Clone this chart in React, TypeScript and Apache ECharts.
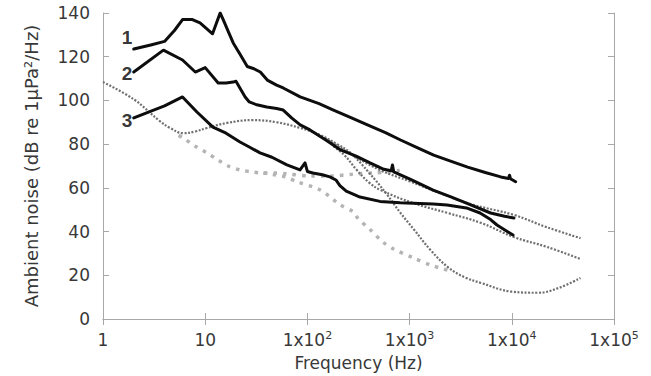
import React, { useEffect, useRef } from "react";
import * as echarts from "echarts";

// Frequency (Hz) / ambient noise (dB re 1µPa²/Hz) pairs
const curve1: [number, number][] = [
  [2, 123.5], [3, 125.5], [4, 127], [5, 132], [6, 137], [7.5, 137], [8.9, 135.5], [11.8, 130.5],
  [14, 140], [15, 137], [17, 131], [18.8, 126.3], [22, 121], [25.8, 115.5], [30, 114.5], [34.6, 113],
  [40.5, 109.3], [50, 107], [58, 105.7], [85, 101.6], [130, 98.5], [180, 95.6], [270, 92], [387, 88.8],
  [580, 85.3], [816, 81.9], [1200, 78.3], [1720, 75], [2600, 72], [3700, 69.5], [5500, 67], [7800, 65],
  [9300, 64.3], [9500, 65.8], [9700, 64.2], [10900, 62.8],
];
const curve2: [number, number][] = [
  [2, 113], [3.9, 123], [6, 118.5], [8, 113], [10, 115], [13.4, 108], [16, 108], [18.8, 108.4],
  [20, 108.8], [24.6, 101.6], [27, 99.3], [32, 98], [40, 97], [50, 96.3], [58, 95.6], [70, 92],
  [85, 88.8], [106, 86.5], [150, 82], [208, 77.5], [300, 74.5], [410, 71.4], [560, 68.5], [660, 67.8],
  [680, 70.5], [700, 67.3], [1009, 64], [1700, 59], [2500, 56], [3600, 53], [6200, 48.5], [8500, 47],
  [10500, 46.2],
];
const curve3: [number, number][] = [
  [2, 92], [4, 97.5], [6, 101.6], [8.3, 94.7], [11.9, 87.8], [16, 85], [21.9, 81], [27, 78.7],
  [34.4, 76], [45, 74], [63, 70.5], [84.7, 68.2], [94.8, 71.4], [100, 67.5], [113, 66.8], [140, 66],
  [166, 65], [190, 63.6], [208, 61], [240, 58.5], [327, 55.8], [513, 53.8], [810, 53.2], [1700, 52.6],
  [2323, 52.2], [3600, 50.8], [4890, 48.5], [6200, 45.5], [7160, 43], [10280, 38.4],
];
const greyA: [number, number][] = [
  [1, 108.4], [2, 100.5], [3.6, 90.5], [4.5, 87.5], [6.1, 85], [8, 85.8], [10.4, 87.4], [16.3, 89.7],
  [29, 91], [50, 90], [85, 87.4], [133, 84.2], [195, 80], [264, 76], [400, 67], [600, 57], [800, 49],
  [1100, 41], [1600, 31.6], [2400, 23.5], [3500, 19], [5000, 16.5], [10000, 12.5], [18000, 12],
  [28000, 14], [47000, 18.8],
];
const greyB: [number, number][] = [
  [150, 82.5], [200, 79], [300, 74], [520, 68], [1000, 63], [2000, 57.5], [4000, 52.5], [10500, 47.6],
  [22000, 42], [47000, 37],
];
const greyC: [number, number][] = [
  [180, 79], [230, 75], [300, 68.5], [400, 62.5], [520, 59], [1095, 53], [2360, 48.5], [4970, 44],
  [10470, 37.5], [22000, 33], [47450, 27.4],
];
const lightA: [number, number][] = [
  [5.5, 84], [6.1, 82.8], [8, 79], [10.4, 76], [13.4, 72.7], [16.8, 70], [22, 68.2], [29, 67.3],
  [37, 66.8], [48, 66.8], [61, 66.5], [107, 65.4], [168, 65.4], [282, 66.3], [445, 66.8], [610, 67.3],
  [800, 68],
];
const lightB: [number, number][] = [
  [37, 66.8], [48, 66], [61, 65], [80, 62.7], [134, 59], [210, 52.2], [282, 49], [310, 46.2],
  [415, 40.7], [555, 35], [700, 32], [1095, 27.9], [1600, 24.7], [2000, 23.3], [2500, 22],
];
const curveLabels: [number, number, string][] = [
  [1.72, 128.6, "1"],
  [1.72, 112.5, "2"],
  [1.72, 91, "3"],
];

const xName = "Frequency (Hz)";
const yName = "Ambient noise (dB re 1µPa²/Hz)";

export default function App() {
  const ref = useRef<HTMLDivElement>(null);
  useEffect(() => {
    const chart = echarts.init(ref.current!, null, { renderer: "svg" });
    const font = "DejaVu Sans";
    const axisColor = "#a8a8a8";
    const textColor = "#383838";

    const blackLine = (data: [number, number][]) => ({
      type: "line",
      data,
      symbol: "none",
      smooth: false,
      z: 5,
      lineStyle: { color: "#0d0d0d", width: 3, cap: "round", join: "round" },
    });
    const darkDots = (data: [number, number][]) => ({
      type: "line",
      data,
      symbol: "none",
      smooth: 0.4,
      z: 3,
      lineStyle: { color: "#6f6f6f", width: 2.2, type: [2, 1.6] },
    });
    const lightDots = (data: [number, number][]) => ({
      type: "line",
      data,
      symbol: "none",
      smooth: 0.3,
      z: 2,
      lineStyle: { color: "#b4b4b4", width: 3.5, type: [3.5, 6] },
    });

    const xLabel = (v: number) => {
      const n = Math.round(Math.log10(v));
      if (n === 0) return "{b|1}";
      if (n === 1) return "{b|10}";
      return `{b|1x10}{s|${n}}`;
    };

    chart.setOption({
      animation: false,
      backgroundColor: "#ffffff",
      grid: { left: 103, right: 37, top: 13, bottom: 57 },
      xAxis: [
        {
          type: "log",
          logBase: 10,
          min: 1,
          max: 100000,
          name: xName,
          nameLocation: "middle",
          nameGap: 35,
          nameTextStyle: { fontFamily: font, fontSize: 17, color: textColor },
          axisLine: { lineStyle: { color: axisColor, width: 1 } },
          axisTick: { inside: true, length: 6, lineStyle: { color: axisColor } },
          minorTick: { show: false },
          splitLine: { show: false },
          axisLabel: {
            margin: 11,
            formatter: xLabel,
            rich: {
              b: { fontFamily: font, fontSize: 17, color: textColor, lineHeight: 20 },
              s: { fontFamily: font, fontSize: 11, color: textColor, verticalAlign: "top", lineHeight: 20 },
            },
          },
        },
        {
          type: "log",
          logBase: 10,
          min: 1,
          max: 100000,
          position: "top",
          axisLine: { lineStyle: { color: axisColor, width: 1 } },
          axisTick: { inside: true, length: 6, lineStyle: { color: axisColor } },
          axisLabel: { show: false },
          splitLine: { show: false },
        },
      ],
      yAxis: [
        {
          type: "value",
          min: 0,
          max: 140,
          interval: 20,
          name: yName,
          nameLocation: "middle",
          nameGap: 63,
          nameTextStyle: { fontFamily: font, fontSize: 18, color: textColor },
          axisLine: { show: true, lineStyle: { color: axisColor, width: 1 } },
          axisTick: { show: true, inside: true, length: 6, lineStyle: { color: axisColor } },
          splitLine: { show: false },
          axisLabel: { margin: 13, fontFamily: font, fontSize: 17, color: textColor },
        },
        {
          type: "value",
          min: 0,
          max: 140,
          interval: 20,
          position: "right",
          axisLine: { show: true, lineStyle: { color: axisColor, width: 1 } },
          axisTick: { show: true, inside: true, length: 6, lineStyle: { color: axisColor } },
          splitLine: { show: false },
          axisLabel: { show: false },
        },
      ],
      series: [
        lightDots(lightA),
        lightDots(lightB),
        darkDots(greyA),
        darkDots(greyB),
        darkDots(greyC),
        blackLine(curve3),
        blackLine(curve2),
        blackLine(curve1),
        {
          type: "scatter",
          data: curveLabels,
          symbolSize: 0,
          z: 6,
          label: {
            show: true,
            position: "inside",
            formatter: (p: any) => p.value[2],
            fontFamily: "Liberation Sans",
            fontWeight: "bold",
            fontSize: 19,
            color: "#000",
          },
        },
      ],
    });
    return () => chart.dispose();
  }, []);
  return (
    <div
      ref={ref}
      style={{ position: "fixed", left: 0, top: 0, width: 651, height: 376, background: "#fff" }}
    />
  );
}
